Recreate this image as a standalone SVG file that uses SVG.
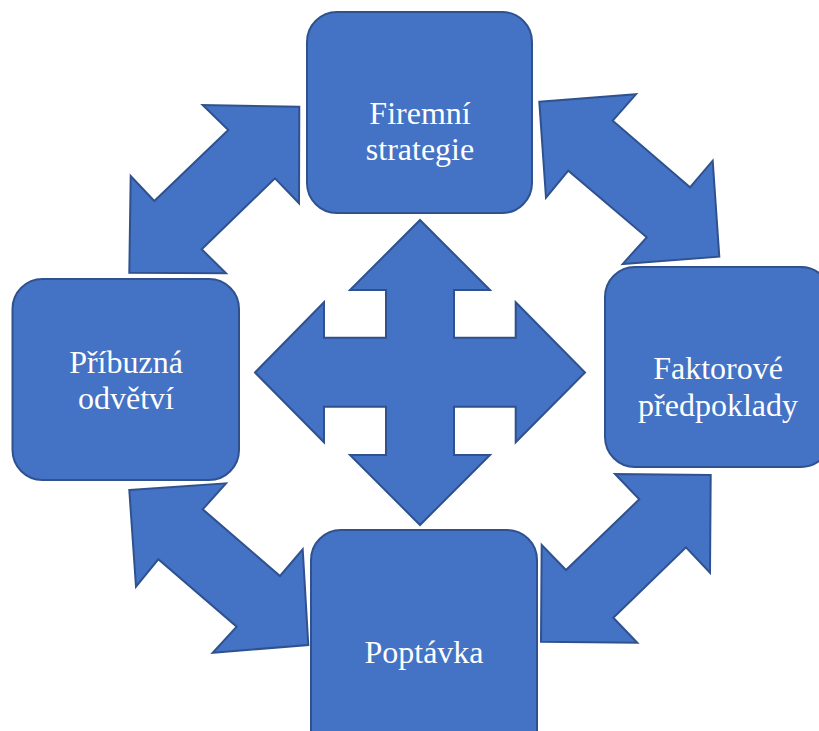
<svg xmlns="http://www.w3.org/2000/svg" width="819" height="731" viewBox="0 0 819 731">
<style>
.shape{fill:#4472C4;stroke:#2F528F;stroke-width:2;stroke-linejoin:miter}
.lbl{font-family:"Liberation Serif","Times New Roman",serif;font-size:32px;fill:#FFFFFF;text-anchor:middle}
</style>
<rect width="819" height="731" fill="#FFFFFF"/>
<g id="connectors">
<polygon id="arrow-tl" class="shape" points="299.3,106.7 202.7,105 228.3,130 154.3,201 130.7,176 129.3,272.7 226,273.3 201.7,249.3 275,178.3 299,203.3"/>
<polygon id="arrow-tr" class="shape" points="539.3,101.7 636,94.3 612.7,120.7 690,187.3 712.7,160.7 719.3,256.7 622.7,264 646.7,237.3 568.3,170.7 546,197.7"/>
<polygon id="arrow-bl" class="shape" points="129.3,490 226,483.3 202.7,509.3 280,576 302.7,549.3 308.3,645 212.7,652.7 236.7,626.7 158.3,559.3 136,586.7"/>
<polygon id="arrow-br" class="shape" points="710.7,475 615,474 639.3,499.3 566,570 541.7,545 541,641.7 637.3,642.7 613.3,617.7 686,547.3 710,572.7"/>
<polygon id="arrow-center" class="shape" points="420,220 490,290 454,290 454,337.7 515.7,337.7 515.7,302.3 585,372.5 515.7,442.3 515.7,406.7 454,406.7 454,455 490,455 420,525 350,455 386,455 386,406.7 324,406.7 324,442.3 255,372.5 324,302.3 324,337.7 386,337.7 386,290 350,290"/>
</g>
<g id="node-firemni">
<rect class="shape" x="307" y="12" width="225" height="201" rx="30" ry="30"/>
<text class="lbl" x="420" y="124">Firemní</text>
<text class="lbl" x="420" y="160">strategie</text>
</g>
<g id="node-faktorove">
<rect class="shape" x="605" y="267" width="226" height="200" rx="30" ry="30"/>
<text class="lbl" x="718" y="379">Faktorové</text>
<text class="lbl" x="718" y="416">předpoklady</text>
</g>
<g id="node-pribuzna">
<rect class="shape" x="12.5" y="279" width="226.5" height="201" rx="30" ry="30"/>
<text class="lbl" x="126" y="373">Příbuzná</text>
<text class="lbl" x="126" y="409">odvětví</text>
</g>
<g id="node-poptavka">
<rect class="shape" x="311" y="530" width="226" height="230" rx="30" ry="30"/>
<text class="lbl" x="424" y="663">Poptávka</text>
</g>
</svg>
